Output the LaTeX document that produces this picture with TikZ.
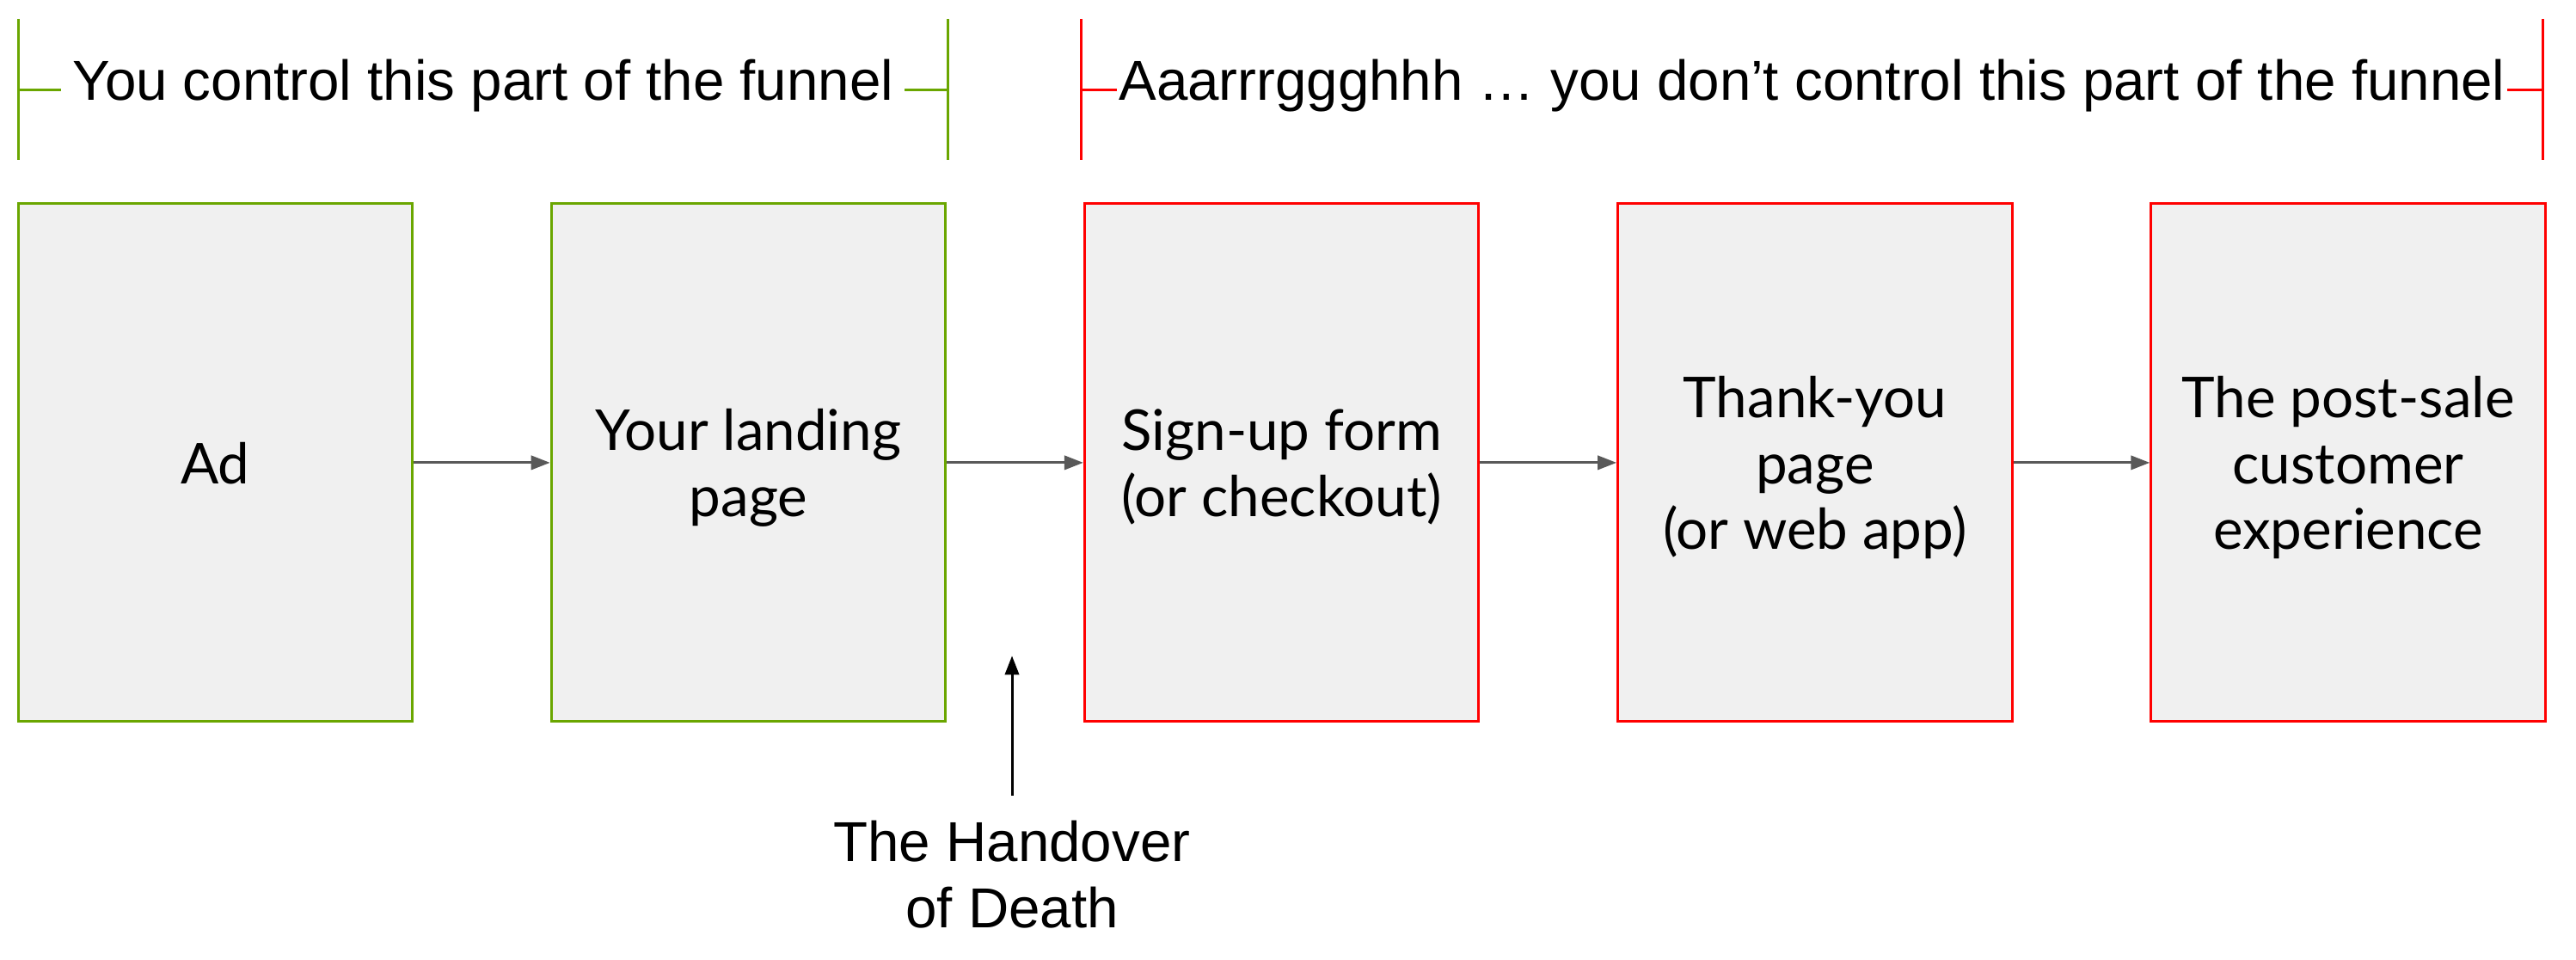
\documentclass[tikz,border=0pt]{standalone}
\usepackage{fontspec}
\setmainfont{Liberation Sans}
\newfontfamily\latofont{Lato}
\usetikzlibrary{positioning,arrows.meta}
\definecolor{ctrlgreen}{HTML}{6AA600}
\definecolor{lostred}{HTML}{FF0000}
\definecolor{boxgray}{HTML}{F0F0F0}
\definecolor{flowgray}{HTML}{595959}

\begin{document}
\begin{tikzpicture}[
                node distance=1.66cm,
                stage/.style={draw, line width=0.9pt, fill=boxgray,
                            minimum width=4.8cm, minimum height=6.3cm,
                            inner sep=0pt, align=center, text depth=0pt,
                            font=\latofont\fontsize{19.5}{22.8}\selectfont},
                ours/.style={stage, draw=ctrlgreen},
                theirs/.style={stage, draw=lostred},
                flow/.style={-{Triangle[length=0.23cm, width=0.17cm]},
                            line width=0.9pt, draw=flowgray},
                pointer/.style={-{Triangle[length=0.23cm, width=0.17cm]},
                            line width=0.9pt},
                brace/.style={line width=0.9pt},
                caption/.style={align=center, inner ysep=0pt,
                            font=\fontsize{19.5}{22.8}\selectfont}]
                \useasboundingbox (0,0) rectangle (31.36,-11.68);
                \node[ours] (ad) at (2.62,-5.63) {Ad};
                \node[ours, right=of ad] (landing) {Your landing\\page};
                \node[theirs, right=of landing] (signup) {Sign-up form\\(or checkout)};
                \node[theirs, right=of signup] (thanks) {Thank-you\\page\\(or web app)};
                \node[theirs, right=of thanks] (postsale) {The post-sale\\customer\\experience};
                \draw[flow] (ad) -- (landing);
                \draw[flow] (landing) -- (signup);
                \draw[flow] (signup) -- (thanks);
                \draw[flow] (thanks) -- (postsale);
                \node[caption, anchor=base, inner xsep=0.13cm] (ourlbl) at (5.88,-1.22)
                    {You control this part of the funnel};
                \node[caption, anchor=base, inner xsep=0.02cm] (theirlbl) at (22.06,-1.22)
                    {Aaarrrggghhh … you don’t control this part of the funnel};
                \coordinate (ourl) at (0.22,-1.09);
                \coordinate (ourr) at (11.54,-1.09);
                \coordinate (theirl) at (13.16,-1.09);
                \coordinate (theirr) at (30.96,-1.09);
                \draw[brace, ctrlgreen] ([yshift=0.86cm]ourl) -- ([yshift=-0.86cm]ourl);
                \draw[brace, ctrlgreen] ([yshift=0.86cm]ourr) -- ([yshift=-0.86cm]ourr);
                \draw[brace, ctrlgreen] (ourl) -- (ourl -| ourlbl.west);
                \draw[brace, ctrlgreen] (ourr) -- (ourr -| ourlbl.east);
                \draw[brace, lostred] ([yshift=0.86cm]theirl) -- ([yshift=-0.86cm]theirl);
                \draw[brace, lostred] ([yshift=0.86cm]theirr) -- ([yshift=-0.86cm]theirr);
                \draw[brace, lostred] (theirl) -- (theirl -| theirlbl.west);
                \draw[brace, lostred] (theirr) -- (theirr -| theirlbl.east);
                \coordinate (gap) at (12.32,-7.98);
                \node[caption, anchor=north, inner ysep=0.3cm] (handover) at (12.32,-9.68)
                    {The Handover\\of Death};
                \draw[pointer] (handover) -- (gap);
            \end{tikzpicture}
\end{document}
